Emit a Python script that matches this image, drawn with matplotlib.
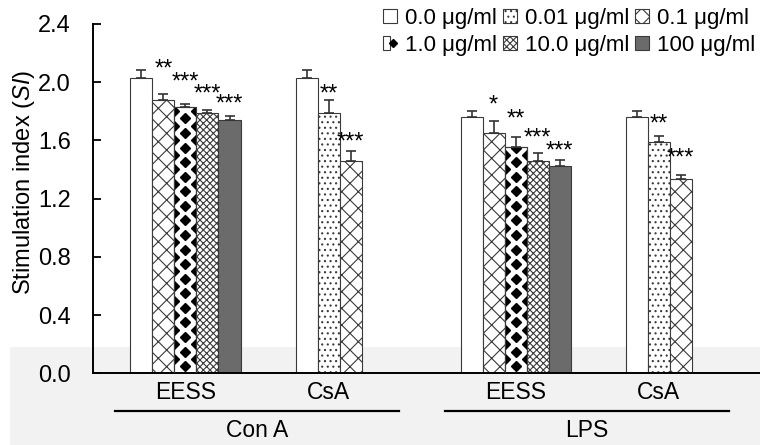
import numpy as np
import matplotlib
matplotlib.use("Agg")
import matplotlib.pyplot as plt
from matplotlib.patches import Patch, Rectangle
from matplotlib.lines import Line2D
from matplotlib.legend_handler import HandlerTuple

plt.rcParams['font.family'] = ['Liberation Sans', 'DejaVu Sans']
plt.rcParams['mathtext.fontset'] = 'custom'
plt.rcParams['mathtext.it'] = 'Liberation Sans:italic'
plt.rcParams['mathtext.rm'] = 'Liberation Sans'
plt.rcParams['hatch.linewidth'] = 0.8
plt.rcParams['hatch.color'] = '#333333'

# data
doses = ['0.0 μg/ml', '0.01 μg/ml', '0.1 μg/ml', '1.0 μg/ml', '10.0 μg/ml', '100 μg/ml']
groups = ['EESS', 'CsA', 'EESS', 'CsA']
mitogens = ['Con A', 'LPS']
group_doses = [[0, 2, 3, 4, 5], [0, 1, 2], [0, 2, 3, 4, 5], [0, 1, 2]]

conA_eess_mean = [2.03, 1.88, 1.83, 1.79, 1.74]
conA_eess_err = [0.05, 0.04, 0.02, 0.02, 0.03]
conA_csa_mean = [2.03, 1.79, 1.46]
conA_csa_err = [0.05, 0.09, 0.07]
lps_eess_mean = [1.76, 1.65, 1.555, 1.46, 1.425]
lps_eess_err = [0.04, 0.08, 0.07, 0.05, 0.04]
lps_csa_mean = [1.76, 1.59, 1.335]
lps_csa_err = [0.04, 0.04, 0.03]

# significance marks and the height they sit at
conA_eess_sig = ['', '**', '***', '***', '***']
conA_eess_sig_y = [0, 2.13, 2.04, 1.96, 1.89]
conA_csa_sig = ['', '**', '***']
conA_csa_sig_y = [0, 1.96, 1.63]
lps_eess_sig = ['', '*', '**', '***', '***']
lps_eess_sig_y = [0, 1.88, 1.79, 1.66, 1.57]
lps_csa_sig = ['', '**', '***']
lps_csa_sig_y = [0, 1.75, 1.52]

means = [conA_eess_mean, conA_csa_mean, lps_eess_mean, lps_csa_mean]
errs = [conA_eess_err, conA_csa_err, lps_eess_err, lps_csa_err]
sigs = [conA_eess_sig, conA_csa_sig, lps_eess_sig, lps_csa_sig]
sig_ys = [conA_eess_sig_y, conA_csa_sig_y, lps_eess_sig_y, lps_csa_sig_y]

# styles per dose: facecolor, hatch
styles = [('white', None), ('white', '...'), ('white', 'xx'),
          ('white', None), ('white', 'xxxxx'), ('#6b6b6b', None)]
edge = '#3a3a3a'

fig = plt.figure(figsize=(7.6, 4.45), dpi=100)
# light grey band along the bottom of the picture
fig.patches.append(Rectangle((0.013, 0.0), 0.987, 0.22, transform=fig.transFigure,
                             facecolor='#f2f2f2', edgecolor='none', zorder=-1))
ax = fig.add_axes([0.1224, 0.1607, 0.8776, 0.786])
ax.set_facecolor('none')

starts = [1.7 + 7.5 * g for g in range(4)]
centers = []
for g in range(4):
    n = len(means[g])
    x = starts[g] + np.arange(n) + 0.5
    centers.append(x.mean())
    for i, d in enumerate(group_doses[g]):
        fc, hatch = styles[d]
        bar = ax.bar(x[i], means[g][i], width=1.0, color=fc, edgecolor=edge,
                     linewidth=0.8, hatch=hatch, zorder=2)[0]
        if d == 3:
            # diamond pattern
            step = 0.1
            ys = np.arange(0.05, means[g][i], step)
            m1, = ax.plot(np.full(len(ys), x[i]), ys, ls='none', marker='D',
                          ms=4.8, color='black', zorder=3)
            m2, = ax.plot(np.full(len(ys), x[i] - 0.5), ys + step / 2, ls='none',
                          marker='D', ms=4.8, color='black', zorder=3)
            m3, = ax.plot(np.full(len(ys), x[i] + 0.5), ys + step / 2, ls='none',
                          marker='D', ms=4.8, color='black', zorder=3)
            for m in (m1, m2, m3):
                m.set_clip_path(bar)
            ax.bar(x[i], means[g][i], width=1.0, color='none', edgecolor=edge,
                   linewidth=0.8, zorder=4)
    ax.errorbar(x, means[g], yerr=[np.zeros(n), errs[g]], fmt='none',
                ecolor='#333333', elinewidth=1.2, capsize=3.5, capthick=1.2, zorder=5)
    for i in range(n):
        if sigs[g][i]:
            ax.annotate(sigs[g][i], (x[i], sig_ys[g][i]),
                        xytext=(0, -9), textcoords='offset points',
                        ha='center', va='baseline', fontsize=17)
    ax.text(centers[g], -0.13, groups[g], ha='center', va='center', fontsize=16.5)

for k in range(2):
    x0 = centers[2 * k] - 3.2
    x1 = centers[2 * k + 1] + 3.2
    ax.plot([x0, x1], [-0.257, -0.257], color='black', lw=1.6, clip_on=False)
    ax.text((x0 + x1) / 2, -0.39, mitogens[k], ha='center', va='center', fontsize=16.5)

ax.set_xlim(0, 30.3)
ax.set_ylim(0, 2.4)
ax.set_yticks([0.0, 0.4, 0.8, 1.2, 1.6, 2.0, 2.4])
ax.set_yticklabels(['0.0', '0.4', '0.8', '1.2', '1.6', '2.0', '2.4'])
ax.tick_params(axis='y', direction='in', length=6, width=1.3, pad=16, labelsize=17)
ax.tick_params(axis='x', bottom=False, labelbottom=False)
for s in ['top', 'right']:
    ax.spines[s].set_visible(False)
for s in ['left', 'bottom']:
    ax.spines[s].set_linewidth(1.4)

fig.text(0.032, 0.589, r'Stimulation index ($\it{SI}$)', rotation=90,
         ha='center', va='center', fontsize=17)

# legend
handles = []
for d, (fc, hatch) in enumerate(styles):
    p = Patch(facecolor=fc, edgecolor=edge, hatch=hatch, linewidth=0.8)
    if d == 3:
        p = (p, Line2D([], [], ls='none', marker='D', ms=4, color='black'))
    handles.append(p)
order = [0, 3, 1, 4, 2, 5]
fig.legend([handles[i] for i in order], [doses[i] for i in order], ncol=3,
           loc='upper left', bbox_to_anchor=(383 / 760, 0.982), frameon=False,
           fontsize=16, handlelength=0.62, handleheight=0.62,
           handletextpad=0.38, columnspacing=0.25, labelspacing=0.25,
           borderpad=0, borderaxespad=0,
           handler_map={tuple: HandlerTuple(ndivide=None)})

fig.savefig('out.png', dpi=100)
